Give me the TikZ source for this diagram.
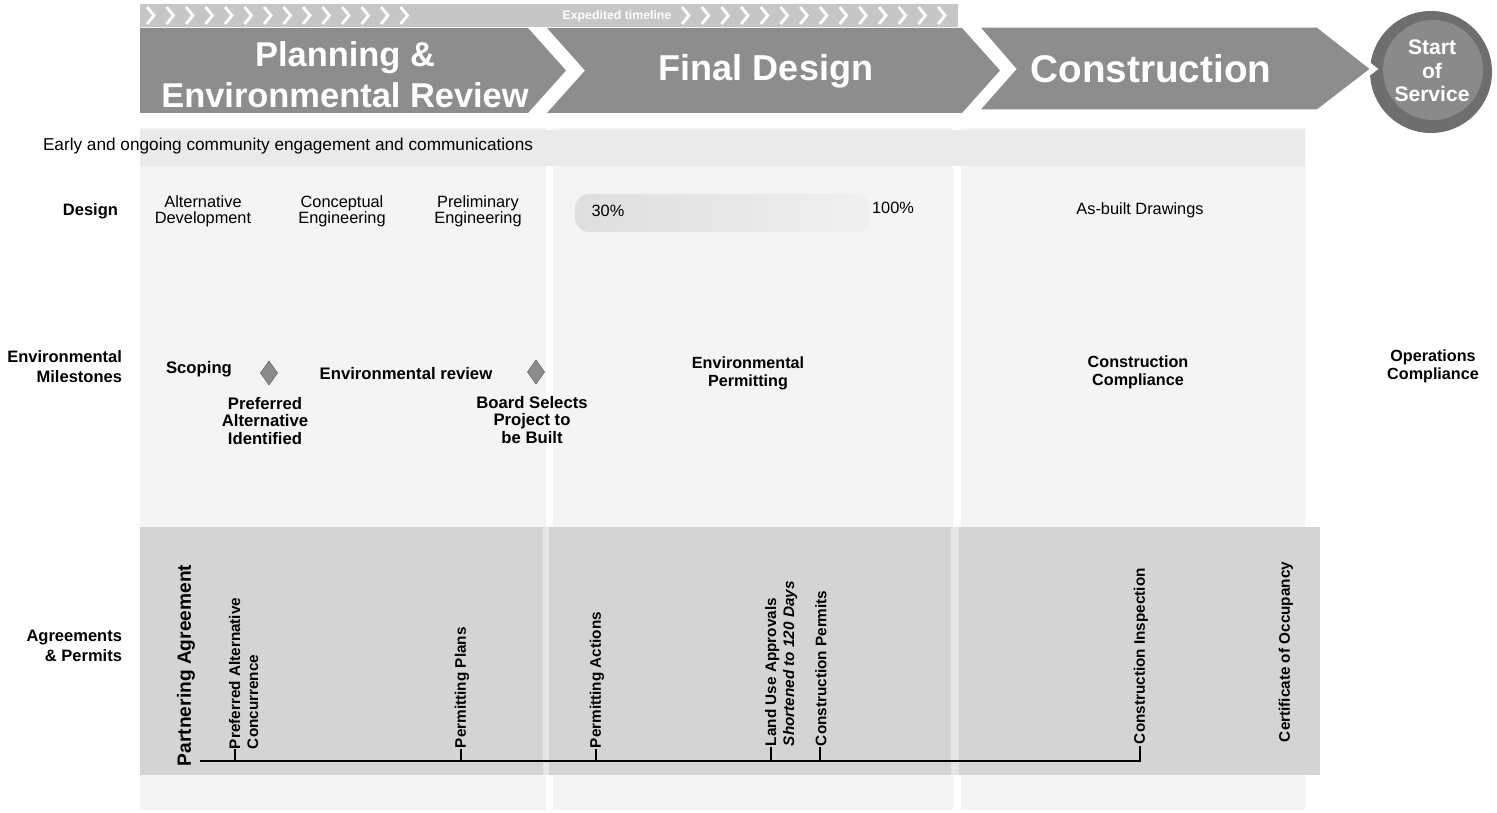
\documentclass[tikz,border=0pt]{standalone}
\usepackage{fontspec}
\setmainfont{Liberation Sans}
\usetikzlibrary{shapes.geometric}
\definecolor{hdr}{HTML}{8D8D8D}
\definecolor{band}{HTML}{C6C6C6}
\definecolor{colbg}{HTML}{F4F4F4}
\definecolor{engbg}{HTML}{EAEAEA}
\definecolor{agrbg}{HTML}{D4D4D4}
\definecolor{agrgap}{HTML}{E6E6E6}
\definecolor{ringc}{HTML}{6E6E6E}
\definecolor{innerc}{HTML}{8A8A8A}
\definecolor{diamc}{HTML}{8C8C8C}
\begin{document}
\begin{tikzpicture}[x=0.02cm,y={(0cm,-0.02cm)},
  every node/.style={inner sep=0pt, outer sep=0pt},
  hdrtxt/.style={text=white, font=\bfseries\fontsize{19.6}{23.3}\selectfont, align=center},
  rowlab/.style={font=\bfseries\fontsize{9.4}{11.3}\selectfont, align=right, anchor=east},
  desitem/.style={font=\fontsize{9.3}{9.2}\selectfont, align=center},
  envitem/.style={font=\bfseries\fontsize{9.5}{10}\selectfont, align=center},
  vlab/.style={rotate=90, font=\bfseries\fontsize{8.7}{10.2}\selectfont, align=left},
  diam/.style={diamond, fill=diamc, draw=diamc!70!black, line width=0.3pt, minimum width=0.34cm, minimum height=0.48cm, inner sep=0pt},
  tline/.style={line width=1pt, black}
]
\useasboundingbox (0,0) rectangle (1497,813);

% ---------- backgrounds ----------
\fill[colbg] (140,128) rectangle (546,810);
\fill[colbg] (553,128) rectangle (953,810);
\fill[colbg] (961,128) rectangle (1305,810);
\fill[engbg] (140,130) rectangle (1305,166);
\shade[left color=black!13, right color=black!6, rounded corners=8] (575,194) rectangle (870,232);

% agreements band
\fill[agrgap] (140,527) rectangle (1320,775);
\fill[agrbg] (140,527) rectangle (543,775);
\fill[agrbg] (549,527) rectangle (951,775);
\fill[agrbg] (959,527) rectangle (1320,775);

% ---------- header ----------
\fill[band] (140,4) rectangle (958,27);
\foreach \i in {0,...,13}
  \draw[white, line width=1.6pt, line join=miter] ({147+\i*19.5},7) -- ({154+\i*19.5},15.5) -- ({147+\i*19.5},24);
\foreach \i in {0,...,13}
  \draw[white, line width=1.6pt, line join=miter] ({682+\i*19.7},7) -- ({689+\i*19.7},15.5) -- ({682+\i*19.7},24);
\node[text=white, font=\bfseries\fontsize{7}{8}\selectfont] (exp) at (617,16) {Expedited timeline};

\fill[hdr] (140,28) -- (528,28) -- (566,70.5) -- (528,113) -- (140,113) -- cycle;
\fill[hdr] (547,28) -- (962,28) -- (1000,70.5) -- (962,113) -- (547,113) -- (585,70.5) -- cycle;

% start of service circle
\fill[ringc] (1431,72) circle (61);
\fill[innerc] (1433,70) circle (50);
\node[text=white, font=\bfseries\fontsize{12}{13.4}\selectfont, align=center] (sos) at (1432,71) {Start\\of\\Service};

\filldraw[hdr, draw=white, line width=3pt, line join=miter] (975,25) -- (1318,25) -- (1374,69) -- (1318,112) -- (975,112) -- (1013,69) -- cycle;

\node[hdrtxt] (per) at (345,75) {Planning \&\\Environmental Review};
\node[hdrtxt, font=\bfseries\fontsize{20.5}{23}\selectfont] (fd) at (766,71) {Final Design};
\node[hdrtxt, font=\bfseries\fontsize{22}{24}\selectfont] (con) at (1151,69) {Construction};

% ---------- engagement row ----------
\node[anchor=west, font=\fontsize{9.8}{11}\selectfont] (eng) at (43,146) {Early and ongoing community engagement and communications};

% ---------- design row ----------
\node[rowlab] (rdes) at (118,211) {Design};
\node[desitem] (altdev) at (203,211) {Alternative\\Development};
\node[desitem] (concep) at (342,211) {Conceptual\\Engineering};
\node[desitem] (prelim) at (478,211) {Preliminary\\Engineering};
\node[desitem] (p30) at (608,211) {30\%};
\node[desitem] (p100) at (893,208) {100\%};
\node[desitem] (asb) at (1140,210) {As-built Drawings};

% ---------- environmental milestones ----------
\node[rowlab] (renv) at (122,367) {Environmental\\Milestones};
\node[envitem] (scop) at (199,369) {Scoping};
\node[diam] (d1) at (269,373) {};
\node[envitem] (envrev) at (406,374) {Environmental review};
\node[diam] (d2) at (536,372) {};
\node[envitem] (pai) at (265,421) {Preferred\\Alternative\\Identified};
\node[envitem] (bsp) at (532,420) {Board Selects\\Project to\\be Built};
\node[envitem, font=\bfseries\fontsize{9.2}{10.2}\selectfont] (envp) at (748,373) {Environmental\\Permitting};
\node[envitem, font=\bfseries\fontsize{9.2}{10.2}\selectfont] (cc) at (1138,372) {Construction\\Compliance};
\node[envitem, font=\bfseries\fontsize{9.2}{10.2}\selectfont] (oc) at (1433,366) {Operations\\Compliance};

% ---------- agreements & permits ----------
\node[rowlab] (ragr) at (122,646) {Agreements\\\& Permits};

\coordinate (L0) at (200,761);
\coordinate (L1) at (1140,761);
\coordinate (k6) at (1140,746);
\draw[tline] (L0) -- (L1) -- (k6);

\node[vlab, anchor=west, font=\bfseries\fontsize{10.9}{12}\selectfont] (pa) at (186,766) {Partnering Agreement};

\coordinate (b1) at (235,761); \coordinate (k1) at (235,749);
\draw[tline] (b1) -- (k1);
\node[vlab, anchor=north west] (pac) at (229,749) {Preferred Alternative\\Concurrence};

\coordinate (b2) at (461,761); \coordinate (k2) at (461,749);
\draw[tline] (b2) -- (k2);
\node[vlab, anchor=west] (pp) at (462,748) {Permitting Plans};

\coordinate (b3) at (596,761); \coordinate (k3) at (596,749);
\draw[tline] (b3) -- (k3);
\node[vlab, anchor=west] (pact) at (597,748) {Permitting Actions};

\coordinate (b4) at (771,761); \coordinate (k4) at (771,747);
\draw[tline] (b4) -- (k4);
\node[vlab, anchor=north west] (lua) at (765,746) {Land Use Approvals\\\textit{Shortened to 120 Days}};

\coordinate (b5) at (820,761); \coordinate (k5) at (820,747);
\draw[tline] (b5) -- (k5);
\node[vlab, anchor=west] (cp) at (821,746) {Construction Permits};

\node[vlab, anchor=west] (ci) at (1141,744) {Construction Inspection};
\node[vlab, anchor=west] (co) at (1286,742) {Certificate of Occupancy};
\end{tikzpicture}
\end{document}
